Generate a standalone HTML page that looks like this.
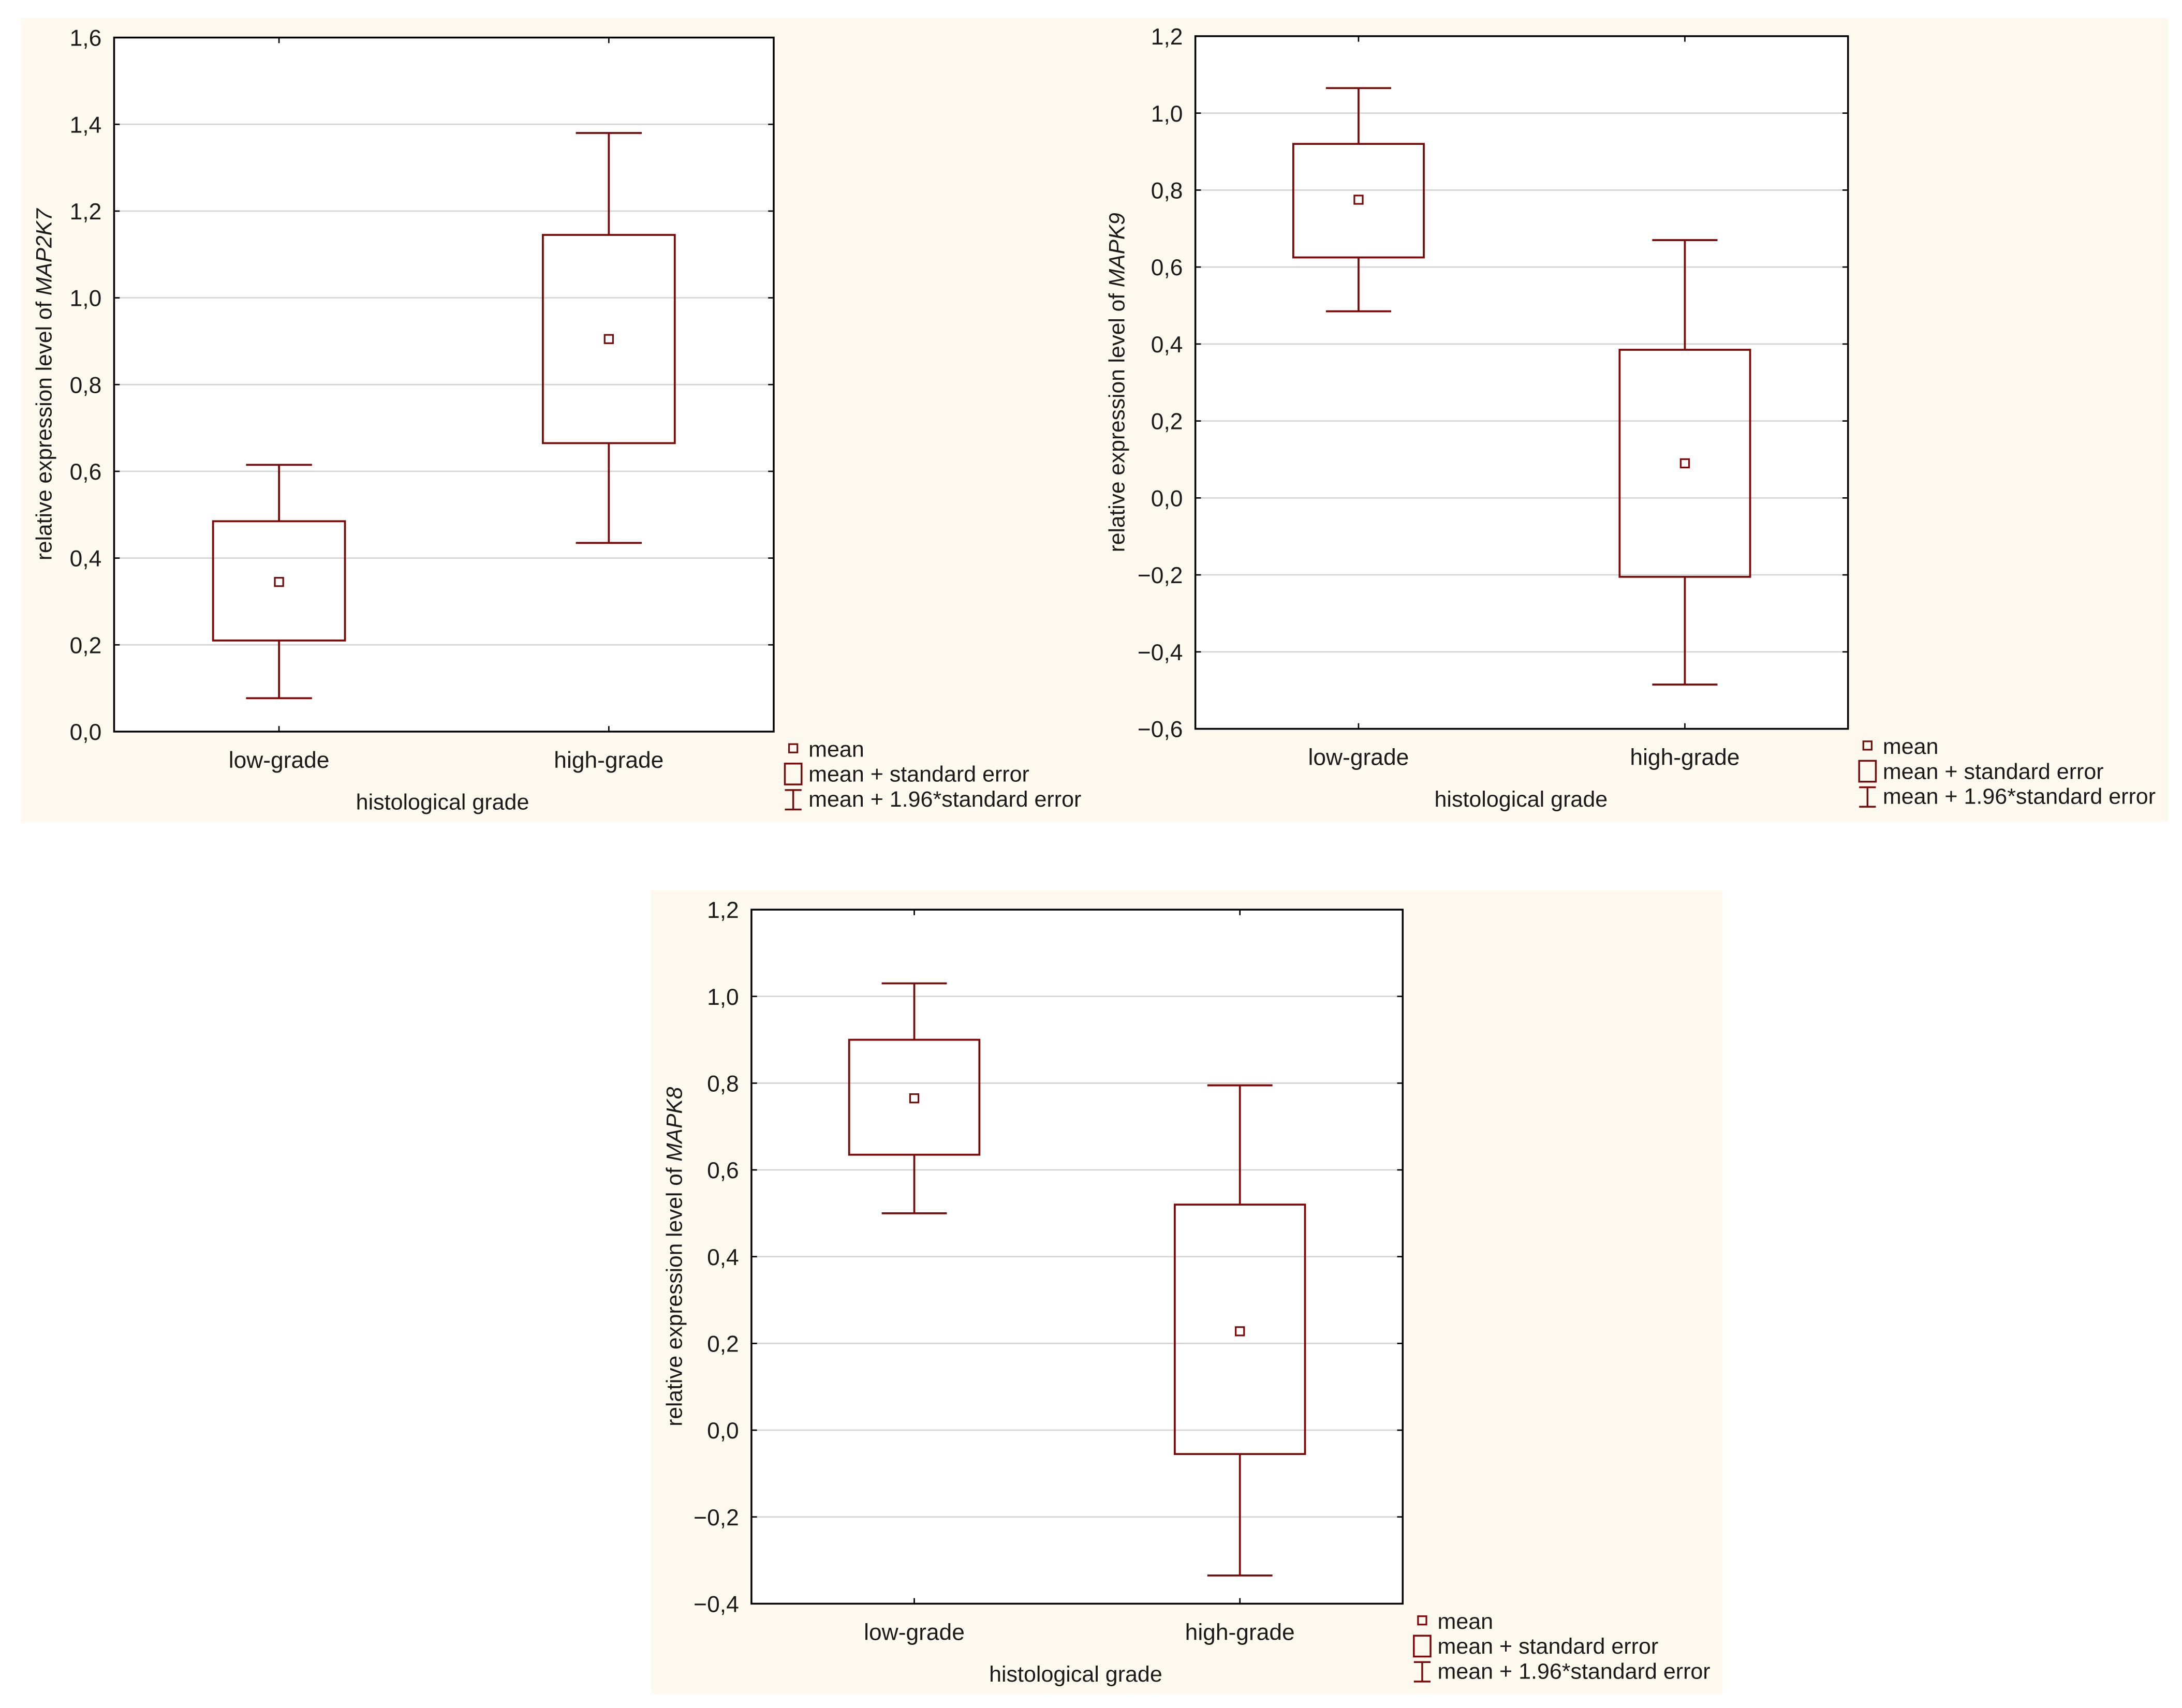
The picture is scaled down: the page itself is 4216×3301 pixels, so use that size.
<!DOCTYPE html>
<html><head><meta charset="utf-8"><style>
html,body{margin:0;padding:0;background:#fff;}
svg{display:block;}
text{font-family:"Liberation Sans",sans-serif;fill:#1a1a1a;}
</style></head><body>
<svg id="fig" width="4216" height="3301" viewBox="0 0 1568 1228" preserveAspectRatio="none" xmlns="http://www.w3.org/2000/svg">
<rect x="15" y="13" width="1543" height="578" fill="#fdf9ee"/>
<rect x="468" y="640" width="770" height="578" fill="#fdf9ee"/>
</svg>
<script>
// Chart 1: MAP2K7
const categories = ["low-grade", "high-grade"];
const map2k7Mean = [0.345, 0.905];
const map2k7SeLow = [0.21, 0.665];
const map2k7SeHigh = [0.485, 1.145];
const map2k7CiLow = [0.077, 0.435];
const map2k7CiHigh = [0.615, 1.38];
const map2k7Ticks = [0, 0.2, 0.4, 0.6, 0.8, 1.0, 1.2, 1.4, 1.6];
// Chart 2: MAPK9
const mapk9Mean = [0.775, 0.09];
const mapk9SeLow = [0.625, -0.205];
const mapk9SeHigh = [0.92, 0.385];
const mapk9CiLow = [0.485, -0.485];
const mapk9CiHigh = [1.065, 0.67];
const mapk9Ticks = [-0.6, -0.4, -0.2, 0, 0.2, 0.4, 0.6, 0.8, 1.0, 1.2];
// Chart 3: MAPK8
const mapk8Mean = [0.765, 0.228];
const mapk8SeLow = [0.635, -0.055];
const mapk8SeHigh = [0.9, 0.52];
const mapk8CiLow = [0.5, -0.335];
const mapk8CiHigh = [1.03, 0.795];
const mapk8Ticks = [-0.4, -0.2, 0, 0.2, 0.4, 0.6, 0.8, 1.0, 1.2];

const NS = "http://www.w3.org/2000/svg";
const svg = document.getElementById("fig");
const RED = "#7a0a0a";
function mk(tag, attrs, parent, txt) {
  const e = document.createElementNS(NS, tag);
  for (const k in attrs) e.setAttribute(k, attrs[k]);
  if (txt !== undefined) e.textContent = txt;
  parent.appendChild(e);
  return e;
}
function fmt(v) {
  const s = Math.abs(v).toFixed(1).replace(".", ",");
  return (v < -1e-9 ? "\u2212" : "") + s;
}
function drawChart(id, L, T, R, B, ticks, mean, seL, seH, ciL, ciH, gene, cx, ytOff) {
  const g = mk("g", {}, svg);
  
  
  const yMin = ticks[0], yMax = ticks[ticks.length - 1];
  const y = v => B - (v - yMin) / (yMax - yMin) * (B - T);
  const x = i => L + (i + 0.5) / categories.length * (R - L);
  mk("rect", {x: L, y: T, width: R - L, height: B - T, fill: "#fff"}, g);
  ticks.forEach(t => {
    const yy = y(t);
    if (t !== yMin && t !== yMax) {
      const gl = mk("line", {x1: L, x2: R, y1: yy, y2: yy, stroke: "#d4d4d4", "stroke-width": 1}, g);
      
      
    }
    mk("line", {x1: L, x2: L + 4, y1: yy, y2: yy, stroke: "#000", "stroke-width": 1}, g);
    mk("line", {x1: R, x2: R - 4, y1: yy, y2: yy, stroke: "#000", "stroke-width": 1}, g);
    const tl = mk("text", {x: L - 9, y: yy + 6, "font-size": 16.5, "text-anchor": "end"}, g, fmt(t));
    
    
  });
  const frame = mk("rect", {x: L, y: T, width: R - L, height: B - T, fill: "none", stroke: "#000", "stroke-width": 1.3}, g);
  
  
  const bw = (R - L) * 0.2, cw = (R - L) * 0.1;
  categories.forEach((c, i) => {
    const xx = x(i);
    mk("line", {x1: xx, x2: xx, y1: B, y2: B - 4, stroke: "#000"}, g);
    mk("line", {x1: xx, x2: xx, y1: T, y2: T + 4, stroke: "#000"}, g);
    const xl = mk("text", {x: xx, y: B + 26, "font-size": 16.5, "text-anchor": "middle"}, g, c);
    
    
    const bx = mk("g", {stroke: RED, "stroke-width": 1.4, fill: "none"}, g);
    
    
    mk("line", {x1: xx, x2: xx, y1: y(ciH[i]), y2: y(seH[i])}, bx);
    mk("line", {x1: xx, x2: xx, y1: y(seL[i]), y2: y(ciL[i])}, bx);
    mk("line", {x1: xx - cw / 2, x2: xx + cw / 2, y1: y(ciH[i]), y2: y(ciH[i])}, bx);
    mk("line", {x1: xx - cw / 2, x2: xx + cw / 2, y1: y(ciL[i]), y2: y(ciL[i])}, bx);
    mk("rect", {x: xx - bw / 2, y: y(seH[i]), width: bw, height: y(seL[i]) - y(seH[i])}, bx);
    mk("rect", {x: xx - 3, y: y(mean[i]) - 3, width: 6, height: 6, "stroke-width": 1.2}, bx);
  });
  const xt = mk("text", {x: cx, y: B + 56, "font-size": 16, "text-anchor": "middle"}, g, "histological grade");
  
  
  const ylx = L - ytOff, yly = (T + B) / 2;
  const yt = mk("text", {x: ylx, y: yly, "font-size": 15.8, "text-anchor": "middle", transform: `rotate(-90 ${ylx} ${yly})`}, g);
  
  
  mk("tspan", {}, yt, "relative expression level of ");
  mk("tspan", {"font-style": "italic"}, yt, gene);
  // legend
  const lg = mk("g", {}, g);
  
  
  const lx = R + 14, ly = B + 12;
  mk("rect", {x: lx - 3, y: ly - 3, width: 6, height: 6, fill: "none", stroke: RED, "stroke-width": 1.2}, lg);
  mk("text", {x: lx + 11, y: ly + 6, "font-size": 16}, lg, "mean");
  mk("rect", {x: lx - 6, y: ly + 11, width: 12, height: 15, fill: "none", stroke: RED, "stroke-width": 1.3}, lg);
  mk("text", {x: lx + 11, y: ly + 24, "font-size": 16}, lg, "mean + standard error");
  mk("line", {x1: lx, x2: lx, y1: ly + 30, y2: ly + 44, stroke: RED, "stroke-width": 1.3}, lg);
  mk("line", {x1: lx - 6, x2: lx + 6, y1: ly + 30, y2: ly + 30, stroke: RED, "stroke-width": 1.3}, lg);
  mk("line", {x1: lx - 6, x2: lx + 6, y1: ly + 44, y2: ly + 44, stroke: RED, "stroke-width": 1.3}, lg);
  mk("text", {x: lx + 11, y: ly + 42, "font-size": 16}, lg, "mean + 1.96*standard error");
}
drawChart("chart-map2k7", 82, 27, 556, 526, map2k7Ticks, map2k7Mean, map2k7SeLow, map2k7SeHigh, map2k7CiLow, map2k7CiHigh, "MAP2K7", 318, 45);
drawChart("chart-mapk9", 859, 26, 1328, 524, mapk9Ticks, mapk9Mean, mapk9SeLow, mapk9SeHigh, mapk9CiLow, mapk9CiHigh, "MAPK9", 1093, 51);
drawChart("chart-mapk8", 540, 654, 1008, 1153, mapk8Ticks, mapk8Mean, mapk8SeLow, mapk8SeHigh, mapk8CiLow, mapk8CiHigh, "MAPK8", 773, 50);
</script>
</body></html>
